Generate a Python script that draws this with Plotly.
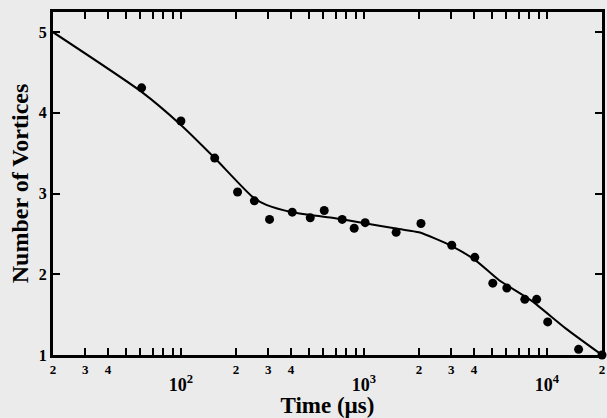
import math
import plotly.graph_objects as go

# Measured data points
time_us = [20, 61, 100, 153, 204, 252, 305, 406, 509, 607, 761, 885, 1016, 1500,
           2050, 3020, 4035, 5060, 6040, 7570, 8790, 10100, 14900, 20000]
vortices = [5.0, 4.31, 3.90, 3.44, 3.02, 2.91, 2.68, 2.77, 2.70, 2.79, 2.68, 2.57, 2.64, 2.52,
            2.63, 2.36, 2.21, 1.89, 1.83, 1.69, 1.69, 1.41, 1.07, 1.0]

# Fitted curve
fit_t = [20, 61, 100, 153, 246, 293, 406, 671, 1028, 1556, 2000, 3020, 4090, 5460, 8260, 12650, 20000]
fit_y = [5.0, 4.26, 3.85, 3.44, 2.96, 2.86, 2.77, 2.70, 2.63, 2.56, 2.52, 2.35, 2.17, 1.93, 1.67, 1.33, 1.0]

# Tick labels
x_tick_vals = [20, 30, 40, 100, 200, 300, 400, 1000, 2000, 3000, 4000, 10000, 20000]
x_tick_text = ["2", "3", "4",
               "<br><span style='font-size:18px'>10<sup>2</sup></span>", "2", "3", "4",
               "<br><span style='font-size:18px'>10<sup>3</sup></span>", "2", "3", "4",
               "<br><span style='font-size:18px'>10<sup>4</sup></span>", "2"]
x_minor_vals = [50, 60, 70, 80, 90, 500, 600, 700, 800, 900,
                5000, 6000, 7000, 8000, 9000]
y_tick_vals = [1, 2, 3, 4, 5]
y_tick_text = ["1", "2", "3", "4", "5"]

font_family = "Liberation Serif"
bg = "#ebebeb"

fig = go.Figure()
fig.add_trace(go.Scatter(
    x=fit_t, y=fit_y, mode="lines",
    line=dict(color="black", width=2, shape="spline", smoothing=0.6),
    hoverinfo="skip", showlegend=False, cliponaxis=False,
))
fig.add_trace(go.Scatter(
    x=time_us, y=vortices, mode="markers",
    marker=dict(color="black", size=9),
    showlegend=False, cliponaxis=False,
))

fig.update_layout(
    width=607, height=418,
    margin=dict(l=53, r=5, t=12, b=63, autoexpand=False),
    paper_bgcolor=bg, plot_bgcolor=bg,
    font=dict(family=font_family, color="black"),
    xaxis=dict(
        type="log", automargin=False,
        range=[math.log10(20), math.log10(20000)],
        tickmode="array", tickvals=x_tick_vals, ticktext=x_tick_text,
        ticks="inside", ticklen=7, tickwidth=1.5, tickcolor="black",
        minor=dict(tickmode="array", tickvals=x_minor_vals, ticks="inside",
                   ticklen=7, tickwidth=1.5, tickcolor="black", showgrid=False),
        showline=True, linewidth=3, linecolor="black", mirror="ticks",
        showgrid=False, zeroline=False,
        tickfont=dict(family=font_family, size=13, color="black", weight="bold"),
        title=dict(text="<b>Time (µs)</b>", font=dict(family=font_family, size=23), standoff=2),
    ),
    yaxis=dict(
        range=[1, 5.25], automargin=False,
        tickmode="array", tickvals=y_tick_vals, ticktext=y_tick_text,
        ticks="inside", ticklen=7, tickwidth=1.5, tickcolor="black",
        showline=True, linewidth=3, linecolor="black", mirror="ticks",
        showgrid=False, zeroline=False,
        tickfont=dict(family=font_family, size=16, color="black", weight="bold"),
        title=dict(text="<b>Number of Vortices</b>", font=dict(family=font_family, size=24), standoff=4),
    ),
)

# Remove the browser's default 8px body margin so the figure fills the window exactly.
fig.write_html(
    "out.html",
    config={"displayModeBar": False},
    post_script="document.body.style.margin='0';document.body.style.overflow='hidden';",
)
